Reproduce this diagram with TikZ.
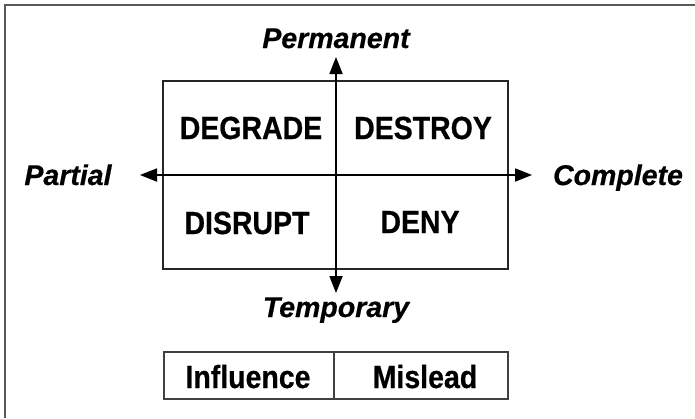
\documentclass[tikz,border=0pt]{standalone}
\usepackage{fontspec}
\setmainfont{Liberation Sans}
\newfontfamily\quadfont[FakeStretch=0.89,FakeBold=0.6]{Liberation Sans}
\newfontfamily\axisfont[FakeBold=0.5]{Liberation Sans}
\usetikzlibrary{arrows.meta}
\tikzset{
  quad/.style={font=\quadfont\bfseries\fontsize{32pt}{34pt}\selectfont, anchor=base, inner sep=0pt},
  axis/.style={font=\axisfont\bfseries\itshape\fontsize{28.5pt}{30pt}\selectfont, anchor=base, inner sep=0pt},
  axisline/.style={line width=1.8pt, {Triangle[length=17pt,width=13pt]}-{Triangle[length=17pt,width=13pt]}},
  frame/.style={draw=black!85, line width=1.3pt},
  cell/.style={draw=black!75, line width=1.3pt, inner sep=0pt}
}
\begin{document}
\begin{tikzpicture}[x=1pt,y=-1pt]
\useasboundingbox (0,0) rectangle (695,418);
% outer border (only top and left visible)
\coordinate (b1) at (5,418);
\coordinate (b2) at (5,5);
\coordinate (b3) at (695,5);
\draw[draw=black!65, line width=1.5pt] (b1) -- (b2) -- (b3);
% main box
\node[frame, inner sep=0pt, minimum width=345pt, minimum height=188pt] (box) at (335.5,175) {};
% axes
\coordinate (L) at (140,175);
\coordinate (R) at (532,175);
\coordinate (T) at (336,57);
\coordinate (B) at (336,293);
\draw[axisline] (L) -- (R);
\draw[axisline] (T) -- (B);
% axis labels
\node[axis] (perm) at (336,48) {Permanent};
\node[axis] (temp) at (336,317) {Temporary};
\node[axis] (part) at (68,185) {Partial};
\node[axis] (comp) at (618,185) {Complete};
% quadrant labels
\node[quad] (degrade) at (251,139) {DEGRADE};
\node[quad] (destroy) at (423,139) {DESTROY};
\node[quad] (disrupt) at (247,234) {DISRUPT};
\node[quad] (deny) at (420,233) {DENY};
% bottom boxes
\node[cell, minimum width=170pt, minimum height=47pt] (infl) at (249,375.5) {};
\node[cell, minimum width=174pt, minimum height=47pt] (misl) at (421,375.5) {};
\node[quad] (inflt) at (248,388) {Influence};
\node[quad] (mislt) at (425,388) {Mislead};
\end{tikzpicture}
\end{document}
